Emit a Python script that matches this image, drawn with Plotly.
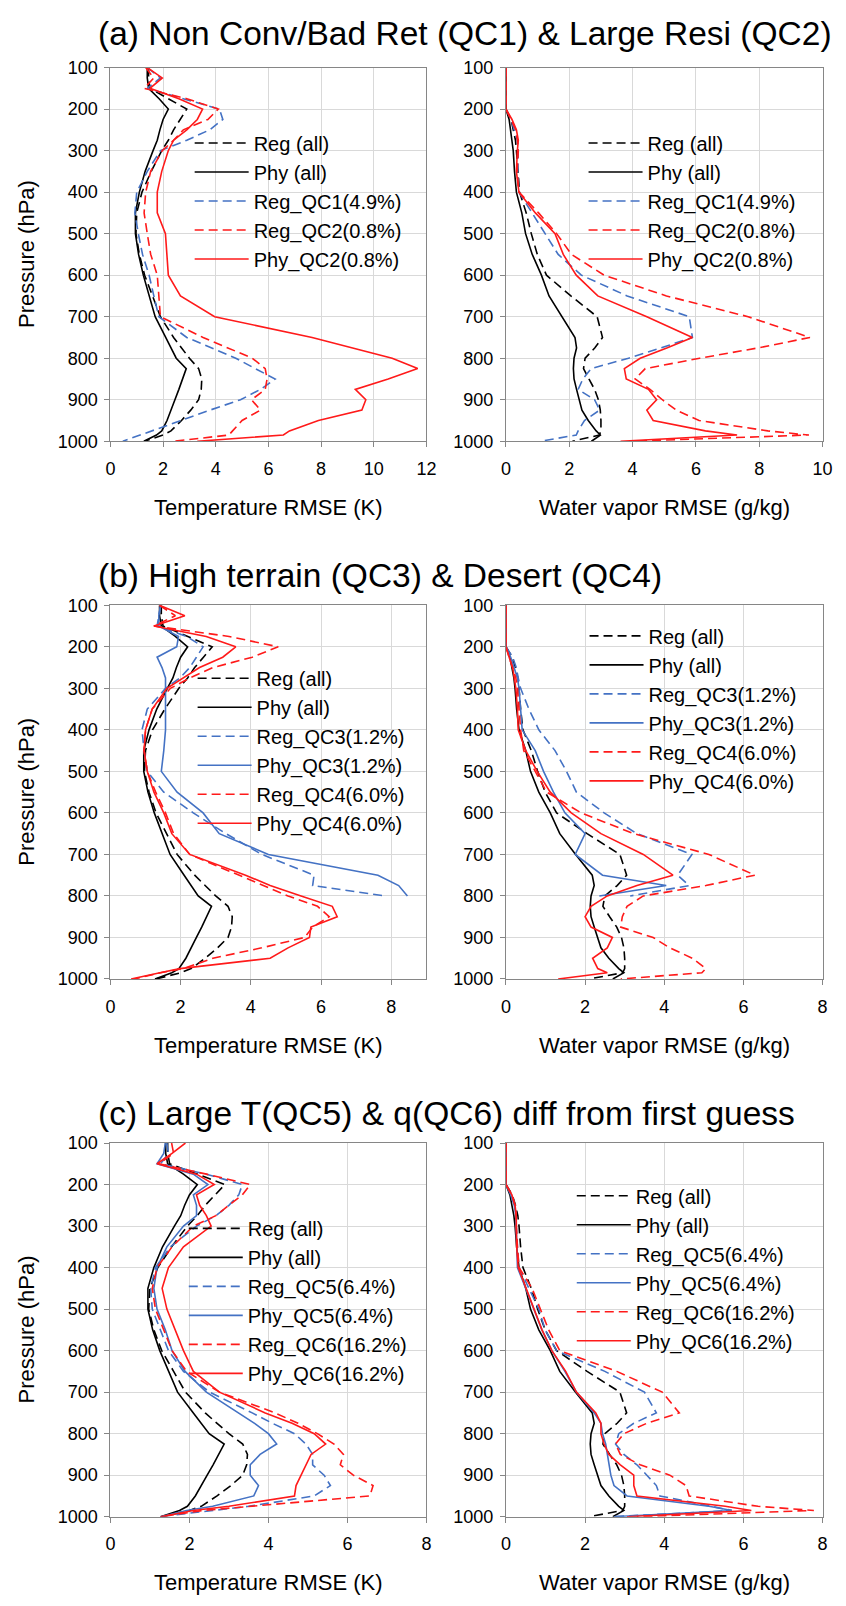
import plotly.graph_objects as go

W, H = 846, 1606
FONT = "Liberation Sans, Arial, sans-serif"

# ---------------- data ----------------
P = [100, 125, 150, 175, 200, 225, 250, 275, 300, 350, 400, 450, 500, 550, 600,
     650, 700, 750, 775, 800, 825, 850, 875, 900, 925, 950, 975, 985, 1000]

# Temperature RMSE (K) - all data
T_REG_ALL = [1.45, 1.45, 1.5, 2.2, 2.9, 2.65, 2.4, 2.2, 1.95, 1.55, 1.2, 1.0, 0.97, 1.1, 1.3,
             1.6, 1.9, 2.4, 2.7, 3.0, 3.35, 3.47, 3.45, 3.35, 3.05, 2.7, 2.3, 2.0, 1.3]
T_PHY_ALL = [1.4, 1.4, 1.45, 1.85, 2.2, 2.0, 1.88, 1.78, 1.62, 1.32, 1.1, 0.95, 0.95, 1.07, 1.25,
             1.48, 1.7, 2.1, 2.3, 2.5, 2.88, 2.75, 2.6, 2.45, 2.3, 2.15, 1.95, 1.75, 1.27]
# Water vapor RMSE (g/kg) - all data
Q_REG_ALL = [0, 0, 0, 0, 0, 0.16, 0.24, 0.3, 0.33, 0.37, 0.43, 0.64, 0.8, 0.99, 1.28,
             2.05, 2.88, 3.05, 2.81, 2.5, 2.45, 2.62, 2.8, 2.92, 2.98, 3.0, 3.0, 2.95, 2.1]
Q_PHY_ALL = [0, 0, 0, 0, 0, 0.1, 0.15, 0.2, 0.23, 0.27, 0.33, 0.5, 0.62, 0.83, 1.12,
             1.36, 1.76, 2.18, 2.23, 2.15, 2.13, 2.15, 2.23, 2.32, 2.4, 2.6, 2.85, 2.98, 2.7]

# (a) QC1 / QC2
T_REG_QC1 = [1.4, 1.9, 1.4, 2.77, 4.14, 4.27, 3.77, 2.9, 1.9, 1.4, 1.0, 0.93, 1.06, 1.22, 1.47,
             1.65, 1.84, 2.9, 3.8, 4.76, 5.5, 6.26, 5.7, 4.94, 3.78, 2.66, 1.54, 1.1, 0.47]
T_REG_QC2 = [1.34, 1.65, 1.28, 2.9, 4.1, 3.7, 2.77, 2.4, 1.97, 1.53, 1.34, 1.28, 1.4, 1.53, 1.78,
             1.84, 1.9, 3.52, 4.45, 5.39, 5.88, 5.95, 5.88, 5.36, 5.7, 5.0, 4.64, 4.5, 2.4]
T_PHY_QC2 = [1.4, 1.97, 1.5, 2.6, 3.5, 3.3, 2.9, 2.4, 2.2, 1.95, 1.78, 1.78, 2.09, 2.15, 2.2,
             2.66, 3.96, 7.66, 9.2, 10.7, 11.67, 10.55, 9.3, 9.7, 9.55, 7.9, 6.8, 6.57, 3.3]
Q_REG_QC1 = [0, 0, 0, 0, 0, 0.16, 0.26, 0.36, 0.39, 0.37, 0.41, 0.83, 1.24, 1.65, 2.38,
             3.83, 5.79, 5.89, 4.9, 3.87, 2.69, 2.43, 2.28, 2.8, 2.96, 2.48, 2.28, 2.22, 1.09]
Q_REG_QC2 = [0, 0, 0, 0, 0, 0.16, 0.31, 0.36, 0.39, 0.35, 0.41, 1.03, 1.6, 2.07, 3.1,
             5.07, 7.65, 9.6, 7.98, 6.12, 4.4, 4.08, 4.55, 4.94, 5.38, 6.1, 8.27, 9.57, 3.9]
Q_PHY_QC2 = [0, 0, 0, 0, 0, 0.19, 0.33, 0.39, 0.36, 0.33, 0.41, 0.93, 1.55, 1.81, 2.22,
             2.9, 4.45, 5.89, 5.1, 4.24, 3.74, 3.8, 4.5, 4.76, 4.45, 4.65, 6.3, 7.3, 3.62]

# (b) QC3 / QC4  (QC3 profiles end at 800 hPa)
T_REG_QC3 = [1.43, 1.38, 1.33, 2.17, 2.64, 2.45, 2.26, 1.98, 1.57, 1.05, 0.9, 0.96, 1.05, 1.52, 2.36,
             3.29, 4.31, 5.8, 5.76, 7.81, None, None, None, None, None, None, None, None, None]
T_PHY_QC3 = [1.43, 1.38, 1.38, 1.94, 1.89, 1.33, 1.47, 1.57, 1.57, 1.57, 1.57, 1.52, 1.45, 1.9, 2.64,
             3.1, 4.5, 7.62, 8.21, 8.46, None, None, None, None, None, None, None, None, None]
T_REG_QC4 = [1.4, 1.85, 1.24, 3.38, 4.78, 4.04, 2.92, 2.26, 1.71, 1.19, 1.0, 0.96, 1.05, 1.29, 1.57,
             1.8, 2.26, 3.66, 4.4, 5.06, 5.9, 6.23, 5.76, 5.53, 4.31, 2.92, 2.08, 1.43, 0.68]
T_PHY_QC4 = [1.4, 2.12, 1.24, 2.73, 3.57, 3.2, 2.54, 2.08, 1.61, 1.19, 1.0, 0.96, 1.05, 1.24, 1.52,
             1.75, 2.26, 3.85, 4.55, 5.43, 6.32, 6.46, 5.71, 5.67, 5.06, 4.55, 1.98, 1.41, 0.59]
Q_REG_QC3 = [0, 0, 0, 0, 0, 0.17, 0.26, 0.31, 0.37, 0.58, 0.83, 1.24, 1.53, 1.78, 2.48,
             3.31, 4.7, 4.34, 4.63, 3.14, None, None, None, None, None, None, None, None, None]
Q_PHY_QC3 = [0, 0, 0, 0, 0, 0.12, 0.21, 0.29, 0.33, 0.37, 0.41, 0.74, 0.95, 1.2, 1.49,
             2.0, 1.75, 2.44, 4.05, 2.36, None, None, None, None, None, None, None, None, None]
Q_REG_QC4 = [0, 0, 0, 0, 0, 0.08, 0.17, 0.25, 0.29, 0.33, 0.37, 0.45, 0.74, 1.03, 1.9,
             3.23, 5.13, 6.29, 5.05, 3.47, 3.06, 2.94, 2.9, 3.72, 4.14, 4.71, 5.05, 4.95, 2.9]
Q_PHY_QC4 = [0, 0, 0, 0, 0, 0.08, 0.17, 0.21, 0.25, 0.29, 0.31, 0.5, 0.79, 1.12, 1.65,
             2.4, 3.47, 4.22, 3.31, 2.56, 2.15, 2.0, 2.15, 2.69, 2.56, 2.19, 2.32, 2.56, 1.32]

# (c) QC5 / QC6
T_REG_QC5 = [1.43, 1.47, 1.27, 2.43, 3.34, 3.25, 3.0, 2.67, 2.18, 1.52, 1.14, 1.02, 1.06, 1.27, 1.47,
             1.85, 2.51, 3.59, 4.1, 4.66, 4.95, 5.12, 5.12, 5.41, 5.57, 5.16, 3.5, 2.6, 1.23]
T_PHY_QC5 = [1.39, 1.35, 1.18, 2.1, 2.47, 2.1, 2.18, 2.18, 1.85, 1.43, 1.18, 1.1, 1.18, 1.39, 1.56,
             1.89, 2.43, 3.25, 3.65, 4.0, 4.21, 3.79, 3.54, 3.54, 3.75, 3.63, 2.59, 1.93, 1.27]
T_REG_QC6 = [1.55, 1.6, 1.23, 2.43, 3.54, 3.34, 3.0, 2.67, 2.1, 1.56, 1.18, 1.06, 1.14, 1.35, 1.56,
             1.93, 2.76, 4.17, 4.75, 5.24, 5.66, 5.9, 5.82, 6.15, 6.65, 6.57, 3.59, 2.34, 1.27]
T_PHY_QC6 = [1.9, 1.56, 1.18, 2.18, 2.63, 2.18, 2.26, 2.43, 2.55, 1.85, 1.47, 1.31, 1.43, 1.64, 1.85,
             2.1, 2.76, 3.92, 4.6, 5.16, 5.45, 5.08, 4.95, 4.83, 4.7, 4.66, 3.0, 2.1, 1.27]
Q_REG_QC5 = [0, 0, 0, 0, 0, 0.15, 0.23, 0.26, 0.26, 0.29, 0.33, 0.58, 0.83, 0.99, 1.28,
             2.5, 3.5, 3.8, 3.23, 2.85, 2.77, 2.98, 3.31, 3.56, 3.8, 3.89, 5.13, 5.71, 2.73]
Q_PHY_QC5 = [0, 0, 0, 0, 0, 0.12, 0.21, 0.25, 0.26, 0.27, 0.29, 0.5, 0.7, 0.91, 1.16,
             1.49, 1.78, 2.23, 2.4, 2.44, 2.52, 2.56, 2.6, 2.65, 2.73, 3.06, 5.13, 5.71, 2.73]
Q_REG_QC6 = [0, 0, 0, 0, 0, 0.15, 0.23, 0.26, 0.26, 0.29, 0.33, 0.66, 0.87, 1.08, 1.36,
             2.8, 3.95, 4.38, 3.56, 2.98, 2.77, 2.89, 3.39, 4.14, 4.55, 4.63, 6.37, 7.78, 3.31]
Q_PHY_QC6 = [0, 0, 0, 0, 0, 0.15, 0.23, 0.26, 0.26, 0.27, 0.31, 0.51, 0.73, 0.91, 1.16,
             1.51, 1.78, 2.27, 2.4, 2.4, 2.48, 2.6, 2.89, 3.23, 3.23, 3.31, 5.54, 6.2, 3.06]

ROW_TITLES = ["(a) Non Conv/Bad Ret (QC1) & Large Resi (QC2)",
              "(b) High terrain (QC3) & Desert (QC4)",
              "(c) Large T(QC5) & q(QC6) diff from first guess"]
Y_TICKS = [100, 200, 300, 400, 500, 600, 700, 800, 900, 1000]

# ---------------- styles ----------------
BLACK, BLUE, RED = "#000000", "#4472C4", "#FF1A1A"
DASH = "9px,5px"

ALL_T = [("Reg (all)", T_REG_ALL, BLACK, DASH), ("Phy (all)", T_PHY_ALL, BLACK, "solid")]
ALL_Q = [("Reg (all)", Q_REG_ALL, BLACK, DASH), ("Phy (all)", Q_PHY_ALL, BLACK, "solid")]

panels = [
    # row, col, xmax, series, legend (sample-left px, first-row-center px)
    (0, 0, 12, ALL_T + [("Reg_QC1(4.9%)", T_REG_QC1, BLUE, DASH), ("Reg_QC2(0.8%)", T_REG_QC2, RED, DASH),
                        ("Phy_QC2(0.8%)", T_PHY_QC2, RED, "solid")], (190, 144)),
    (0, 1, 10, ALL_Q + [("Reg_QC1(4.9%)", Q_REG_QC1, BLUE, DASH), ("Reg_QC2(0.8%)", Q_REG_QC2, RED, DASH),
                        ("Phy_QC2(0.8%)", Q_PHY_QC2, RED, "solid")], (591, 144)),
    (1, 0, 9, ALL_T + [("Reg_QC3(1.2%)", T_REG_QC3, BLUE, DASH), ("Phy_QC3(1.2%)", T_PHY_QC3, BLUE, "solid"),
                       ("Reg_QC4(6.0%)", T_REG_QC4, RED, DASH), ("Phy_QC4(6.0%)", T_PHY_QC4, RED, "solid")], (193, 686)),
    (1, 1, 8, ALL_Q + [("Reg_QC3(1.2%)", Q_REG_QC3, BLUE, DASH), ("Phy_QC3(1.2%)", Q_PHY_QC3, BLUE, "solid"),
                       ("Reg_QC4(6.0%)", Q_REG_QC4, RED, DASH), ("Phy_QC4(6.0%)", Q_PHY_QC4, RED, "solid")], (592, 643)),
    (2, 0, 8, ALL_T + [("Reg_QC5(6.4%)", T_REG_QC5, BLUE, DASH), ("Phy_QC5(6.4%)", T_PHY_QC5, BLUE, "solid"),
                       ("Reg_QC6(16.2%)", T_REG_QC6, RED, DASH), ("Phy_QC6(16.2%)", T_PHY_QC6, RED, "solid")], (184, 1243)),
    (2, 1, 8, ALL_Q + [("Reg_QC5(6.4%)", Q_REG_QC5, BLUE, DASH), ("Phy_QC5(6.4%)", Q_PHY_QC5, BLUE, "solid"),
                       ("Reg_QC6(16.2%)", Q_REG_QC6, RED, DASH), ("Phy_QC6(16.2%)", Q_PHY_QC6, RED, "solid")], (579, 1210)),
]

# plot-area geometry in pixels
COL_X = [(107.3, 429.0), (510.0, 832.3)]
ROW_TOP = [58.3, 602.8, 1147.3]
PLOT_H = 378.4
TITLE_Y = [24, 573, 1117]
XTITLE_DY = 67
LEG_FONT = 20

def fx(px):
    return px / W

def fy(py):
    return 1 - py / H

fig = go.Figure()
layout = dict(width=W, height=H, margin=dict(l=0, r=0, t=0, b=0),
              paper_bgcolor="white", plot_bgcolor="white",
              font=dict(family=FONT, color="black"), annotations=[])

for k, (row, col, xmax, series, (lx, ly)) in enumerate(panels, start=1):
    x0, x1 = COL_X[col]
    top = ROW_TOP[row]
    bot = top + PLOT_H
    xa, ya = f"xaxis{k}", f"yaxis{k}"
    leg = "legend" if k == 1 else f"legend{k}"
    axcommon = dict(showgrid=True, gridcolor="#D9D9D9", gridwidth=1,
                    showline=True, linecolor="#868686", linewidth=1, mirror=True,
                    ticks="outside", ticklen=5, tickcolor="#868686",
                    tickfont=dict(size=18, family=FONT, color="black"),
                    zeroline=False, fixedrange=True)
    layout[xa] = dict(axcommon, domain=[fx(x0), fx(x1)], anchor=f"y{k}",
                      range=[0, xmax], dtick=2, tick0=0, ticklabelstandoff=6)
    layout[ya] = dict(axcommon, domain=[fy(bot), fy(top)], anchor=f"x{k}",
                      range=[1000, 100], tickvals=Y_TICKS, ticklabelstandoff=3)
    layout[leg] = dict(x=fx(lx - 2), y=fy(ly - 29), xanchor="left", yanchor="top",
                       bgcolor="rgba(0,0,0,0)", borderwidth=0,
                       font=dict(size=LEG_FONT, family=FONT, color="black"),
                       itemwidth=54, tracegroupgap=0, traceorder="normal")
    for name, vals, color, dash in series:
        fig.add_trace(go.Scatter(x=vals, y=P, mode="lines", name=name,
                                 line=dict(color=color, width=1.6, dash=dash),
                                 xaxis=f"x{k}", yaxis=f"y{k}", legend=leg,
                                 connectgaps=False))
    # x-axis title
    xt = "Temperature RMSE (K)" if col == 0 else "Water vapor RMSE (g/kg)"
    layout["annotations"].append(dict(text=xt, x=fx((x0 + x1) / 2), y=fy(bot + XTITLE_DY),
                                      xref="paper", yref="paper", showarrow=False,
                                      xanchor="center", yanchor="middle",
                                      font=dict(size=22, family=FONT, color="black")))
    if col == 0:
        layout["annotations"].append(dict(text="Pressure (hPa)", x=fx(22), y=fy((top + bot) / 2),
                                          xref="paper", yref="paper", showarrow=False,
                                          textangle=-90, xanchor="center", yanchor="middle",
                                          font=dict(size=22, family=FONT, color="black")))

for r, t in enumerate(ROW_TITLES):
    layout["annotations"].append(dict(text=t, x=fx(93), y=fy(TITLE_Y[r]), xref="paper", yref="paper",
                                      showarrow=False, xanchor="left", yanchor="middle",
                                      font=dict(size=33.5, family=FONT, color="black")))

fig.update_layout(**layout)
fig.write_html("out.html")
